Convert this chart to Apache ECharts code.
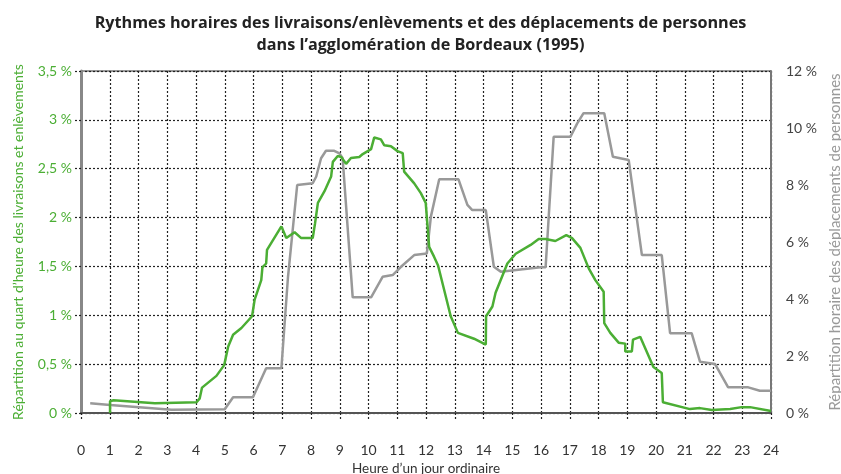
<!DOCTYPE html>
<html>
<head>
<meta charset="utf-8">
<script src="https://cdn.jsdelivr.net/npm/echarts@6/dist/echarts.min.js"></script>
<style>
  html, body { margin: 0; padding: 0; background: #fff; }
  #chart { width: 841px; height: 474px; }
</style>
</head>
<body>
<div id="chart"></div>
<script>
// livraisons / enlèvements, au quart d'heure (axe gauche, %)
var greenHours = [1.01, 1.01, 1.13, 2.57, 4.02, 4.13, 4.21, 4.71, 4.98, 5.12, 5.29, 5.58, 5.95, 6.04, 6.27, 6.31, 6.44, 6.47, 6.97, 7.14, 7.43, 7.66, 8.06, 8.14, 8.24, 8.47, 8.7, 8.76, 8.93, 9.05, 9.22, 9.39, 9.68, 9.8, 10.09, 10.2, 10.43, 10.55, 10.78, 11.01, 11.19, 11.24, 11.59, 11.82, 11.99, 12.11, 12.28, 12.42, 12.86, 13.11, 13.67, 14.08, 14.09, 14.31, 14.42, 14.83, 15.12, 15.64, 15.92, 16.16, 16.5, 16.88, 17.08, 17.37, 17.66, 17.89, 18.18, 18.2, 18.41, 18.7, 18.93, 18.93, 19.16, 19.2, 19.45, 19.91, 20.2, 20.24, 21.18, 21.53, 21.94, 22.58, 22.98, 23.27, 24];
var greenValues = [0, 0.12, 0.13, 0.10, 0.11, 0.15, 0.26, 0.38, 0.49, 0.68, 0.80, 0.87, 0.99, 1.16, 1.36, 1.49, 1.53, 1.67, 1.91, 1.79, 1.85, 1.79, 1.79, 1.94, 2.15, 2.27, 2.42, 2.57, 2.63, 2.62, 2.55, 2.61, 2.62, 2.65, 2.70, 2.82, 2.80, 2.74, 2.73, 2.68, 2.66, 2.47, 2.35, 2.25, 2.15, 1.70, 1.60, 1.51, 0.99, 0.82, 0.76, 0.70, 0.99, 1.09, 1.23, 1.53, 1.63, 1.72, 1.78, 1.78, 1.76, 1.82, 1.79, 1.69, 1.48, 1.36, 1.24, 0.92, 0.82, 0.72, 0.71, 0.63, 0.63, 0.75, 0.78, 0.47, 0.41, 0.11, 0.04, 0.05, 0.03, 0.04, 0.06, 0.06, 0.02];

// déplacements de personnes, horaire (axe droit, %)
var grayHours = [0.32, 1.01, 3.15, 5.0, 5.29, 5.98, 6.44, 6.97, 7.2, 7.52, 8.06, 8.18, 8.35, 8.52, 8.81, 8.99, 9.1, 9.45, 10.09, 10.49, 10.84, 11.13, 11.59, 12.03, 12.17, 12.46, 13.13, 13.44, 13.61, 14.08, 14.36, 14.6, 15.98, 16.16, 16.44, 17.02, 17.26, 17.48, 18.2, 18.5, 19.05, 19.51, 20.2, 20.49, 21.24, 21.53, 22.05, 22.51, 23.21, 23.61, 24];
var grayValues = [0.34, 0.28, 0.11, 0.13, 0.55, 0.55, 1.57, 1.57, 4.78, 8.0, 8.06, 8.29, 8.94, 9.2, 9.2, 9.11, 8.94, 4.06, 4.06, 4.78, 4.84, 5.13, 5.54, 5.6, 6.89, 8.2, 8.2, 7.3, 7.12, 7.12, 5.13, 4.96, 5.11, 5.11, 9.69, 9.69, 10.16, 10.52, 10.52, 8.99, 8.88, 5.54, 5.54, 2.8, 2.8, 1.8, 1.72, 0.9, 0.9, 0.78, 0.78];

var FONT = 'Lato';
var GREEN = '#4bae34';
var GRAY = '#999999';

function pairs(xs, ys) {
  return xs.map(function (x, i) { return [x, ys[i]]; });
}
function pct(v) {
  return String(v).replace('.', ',') + ' %';
}

var myChart = echarts.init(document.getElementById('chart'));
var option = {
  animation: false,
  title: {
    text: 'Rythmes horaires des livraisons/enlèvements et des déplacements de personnes\ndans l’agglomération de Bordeaux (1995)',
    left: 'center',
    top: 7,
    textStyle: {
      fontFamily: 'Open Sans',
      fontSize: 16.2,
      fontWeight: 'bold',
      color: '#222',
      lineHeight: 22
    }
  },
  grid: {
    left: 81,
    right: 70,
    top: 71,
    bottom: 61,
    outerBoundsMode: 'none',
    show: true,
    borderColor: '#333',
    borderWidth: 1
  },
  xAxis: {
    type: 'value',
    min: 0,
    max: 24,
    interval: 1,
    name: 'Heure d’un jour ordinaire',
    nameLocation: 'middle',
    nameGap: 46,
    nameTextStyle: { fontFamily: FONT, fontSize: 13.5, color: '#333' },
    axisLine: { lineStyle: { color: '#555', width: 2 } },
    axisTick: { show: true, length: 8, lineStyle: { color: '#222', type: [2, 2], width: 1.2 } },
    axisLabel: { fontFamily: FONT, fontSize: 14, color: '#333', margin: 30 },
    splitLine: { show: true, lineStyle: { color: '#222', type: [2, 2], width: 1.2 } }
  },
  yAxis: [{
    type: 'value',
    min: 0,
    max: 3.5,
    interval: 0.5,
    position: 'left',
    name: 'Répartition au quart d’heure des livraisons et enlèvements',
    nameLocation: 'middle',
    nameGap: 56,
    nameTextStyle: { fontFamily: FONT, fontSize: 14, color: GREEN },
    axisLine: { show: true, lineStyle: { color: '#888', width: 3 } },
    axisTick: { show: true, length: 7, lineStyle: { color: '#222', type: [2, 2], width: 1.2 } },
    axisLabel: { fontFamily: FONT, fontSize: 14, color: GREEN, margin: 9, formatter: pct },
    splitLine: { show: true, lineStyle: { color: '#222', type: [2, 2], width: 1.2 } }
  }, {
    type: 'value',
    min: 0,
    max: 12,
    interval: 2,
    position: 'right',
    name: 'Répartition horaire des déplacements de personnes',
    nameLocation: 'middle',
    nameGap: 55,
    nameTextStyle: { fontFamily: FONT, fontSize: 15, color: GRAY },
    axisLine: { show: true, lineStyle: { color: '#777', width: 2 } },
    axisTick: { show: false },
    axisLabel: { fontFamily: FONT, fontSize: 14, color: '#444', margin: 15, formatter: pct },
    splitLine: { show: false }
  }],
  series: [{
    name: 'Déplacements de personnes',
    type: 'line',
    yAxisIndex: 1,
    showSymbol: false,
    data: pairs(grayHours, grayValues),
    lineStyle: { color: GRAY, width: 2.5 },
    z: 3
  }, {
    name: 'Livraisons/enlèvements',
    type: 'line',
    yAxisIndex: 0,
    showSymbol: false,
    data: pairs(greenHours, greenValues),
    lineStyle: { color: GREEN, width: 2.5 },
    z: 4
  }]
};
myChart.setOption(option);
window.addEventListener('resize', function () {
  myChart.resize();
});
</script>
</body>
</html>
